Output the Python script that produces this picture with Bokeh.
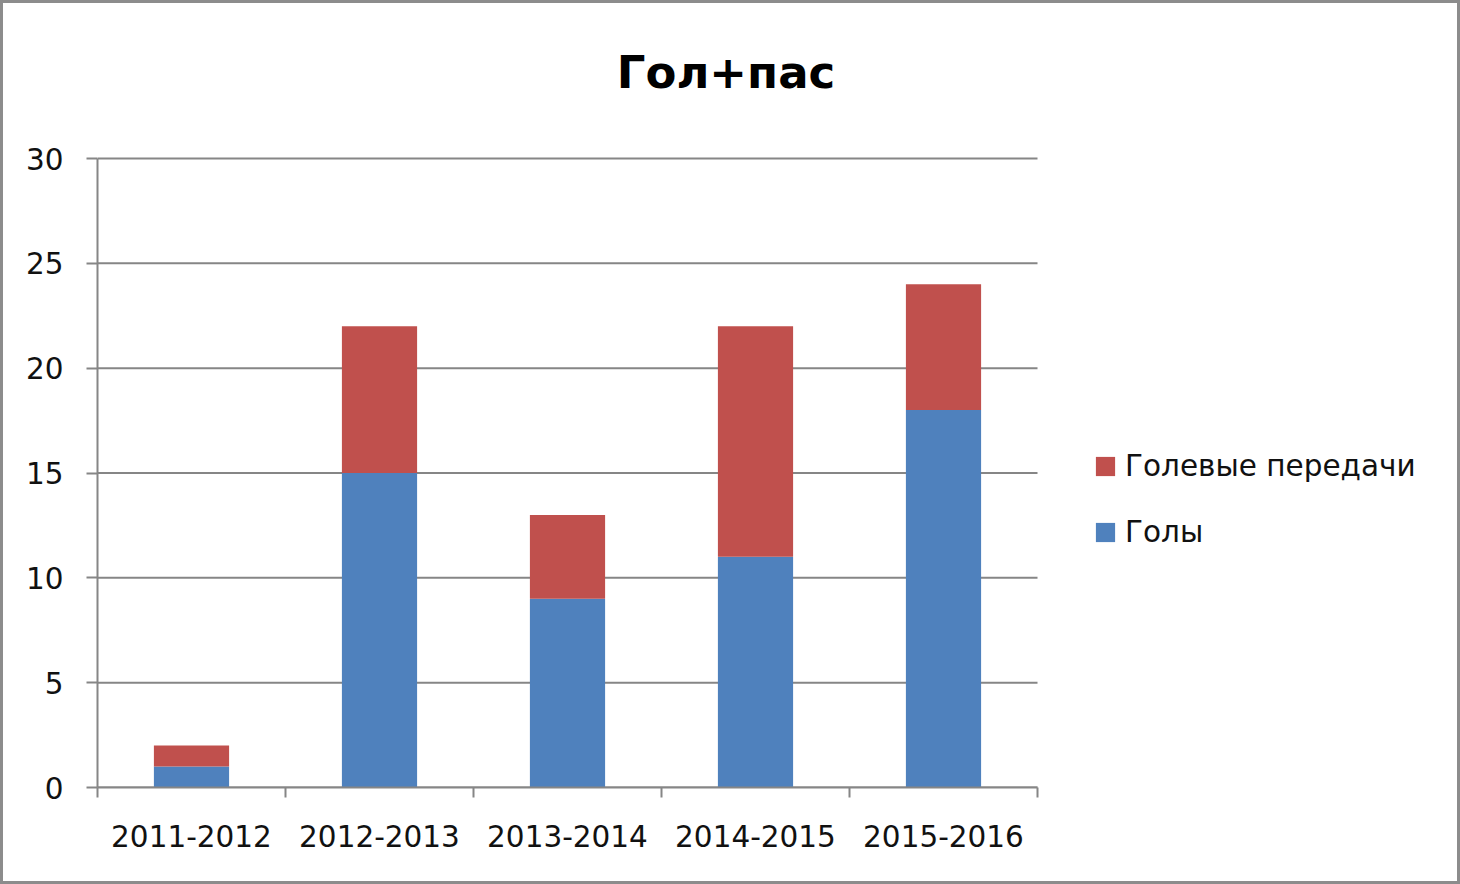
from bokeh.plotting import figure
from bokeh.models import ColumnDataSource, FixedTicker, Legend, LegendItem, Range1d, Label
from bokeh.embed import file_html
from bokeh.resources import INLINE

title = "Гол+пас"
seasons = ["2011-2012", "2012-2013", "2013-2014", "2014-2015", "2015-2016"]
goals = [1, 15, 9, 11, 18]
assists = [1, 7, 4, 11, 6]
y_ticks = [0, 5, 10, 15, 20, 25, 30]

BLUE = "#4F81BD"
RED = "#C0504D"
GREY = "#868686"
FONT = "DejaVu Sans"

n = len(seasons)
ymax = y_ticks[-1]
xpos = [i + 0.5 for i in range(n)]
source = ColumnDataSource(dict(x=xpos, goals=goals, assists=assists))

# The frame spans the legend/title area too; axes and grid are bounded to the data area.
PLOT_W, FRAME_W = 940, 1360     # px: category area / whole frame width
PLOT_H, FRAME_H = 629, 784      # px: value area / whole frame height
px_x = n / PLOT_W               # data units per pixel
px_y = ymax / PLOT_H

p = figure(width=1460, height=884, output_backend="svg", toolbar_location=None,
           x_range=Range1d(0, FRAME_W * px_x), y_range=Range1d(0, FRAME_H * px_y),
           min_border_left=94, min_border_right=6, min_border_top=0, min_border_bottom=100,
           background_fill_color="white", border_fill_color="white")
p.outline_line_color = None

# horizontal grid lines limited to the category area
grid_src = ColumnDataSource(dict(x0=[0] * len(y_ticks), x1=[n] * len(y_ticks), y=y_ticks))
p.segment(x0="x0", x1="x1", y0="y", y1="y", source=grid_src, line_color=GREY, line_width=2)

r = p.vbar_stack(["goals", "assists"], x="x", width=0.4, color=[BLUE, RED],
                 line_color=None, source=source)

# axes
p.yaxis.ticker = FixedTicker(ticks=y_ticks)
p.yaxis.bounds = (0, ymax)
p.xaxis.ticker = FixedTicker(ticks=xpos, minor_ticks=list(range(n + 1)))
p.xaxis.bounds = (0, n)
p.xaxis.major_label_overrides = {x: s for x, s in zip(xpos, seasons)}
for ax in (p.xaxis, p.yaxis):
    ax.axis_line_color = GREY
    ax.axis_line_width = 2
    ax.major_tick_line_color = GREY
    ax.major_tick_line_width = 2
    ax.minor_tick_line_color = GREY
    ax.minor_tick_line_width = 2
    ax.major_label_text_font = FONT
    ax.major_label_text_font_size = "29.5px"
    ax.major_label_text_color = "#111111"
p.yaxis.major_tick_out = 11
p.yaxis.major_tick_in = 0
p.yaxis.minor_tick_out = 0
p.yaxis.minor_tick_in = 0
p.yaxis.major_label_standoff = 23
p.xaxis.major_tick_out = 0
p.xaxis.major_tick_in = 0
p.xaxis.minor_tick_out = 10
p.xaxis.minor_tick_in = 0
p.xaxis.major_label_standoff = 27

p.xgrid.grid_line_color = None
p.ygrid.grid_line_color = None

# title, centred over the whole chart, above the top grid line
p.add_layout(Label(x=628.5 * px_x, y=ymax + 86 * px_y, text=title,
                   text_font=FONT, text_font_style="bold", text_font_size="45px",
                   text_color="#000000", text_align="center", text_baseline="alphabetic"))

legend = Legend(items=[LegendItem(label="Голевые передачи", renderers=[r[1]]),
                       LegendItem(label="Голы", renderers=[r[0]])],
                location=(996, 238), border_line_color=None,
                background_fill_alpha=0,
                label_text_font=FONT, label_text_font_size="29.5px", label_text_color="#111111",
                glyph_width=24, glyph_height=24, label_height=30, spacing=32, margin=0, padding=0,
                label_standoff=8)
p.add_layout(legend)

p.styles = {"border": "3px solid #8c8c8c"}

open("out.html", "w").write(file_html(p, INLINE))
